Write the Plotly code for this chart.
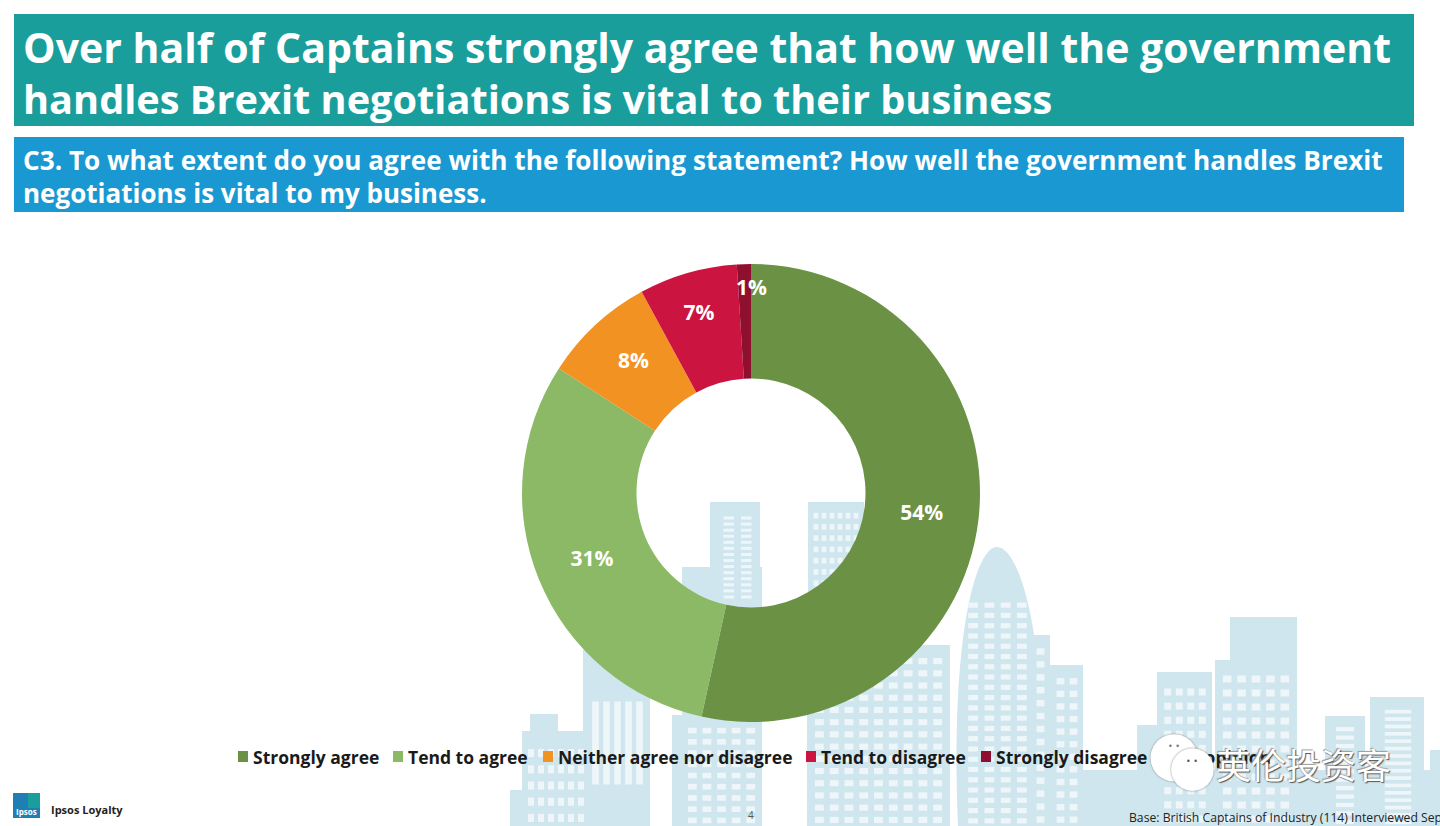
import plotly.graph_objects as go

labels = ['Strongly agree', 'Tend to agree', 'Neither agree nor disagree',
          'Tend to disagree', 'Strongly disagree', 'No opinion']
values = [54, 31, 8, 7, 1, 0]
colors = ['#6a9144', '#8cb966', '#f29222', '#cc1440', '#8f0f2e', '#b8b8b8']
# the 8% and 1% labels sit off the slice centre in the original, they get annotations instead
slice_text = ['54%', '31%', '', '7%', '', '']

title_lines = ['Over half of Captains strongly agree that how well the government',
               'handles Brexit negotiations is vital to their business']
question_lines = ['C3. To what extent do you agree with the following statement? How well the government handles Brexit',
                  'negotiations is vital to my business.']

W = 1440
H = 826
FONT = 'Open Sans'
SKY = '#cfe6ee'

# hand placed legend, plotly's own legend keeps too wide a gap after the symbol
legend_x = [238, 393, 543, 806, 981, 1160]

# background skyline: x0, top, x1, bottom
buildings = [(522, 731, 590, 826), (530, 714, 558, 731), (583, 650, 650, 826),
             (682, 567, 762, 715), (710, 502, 760, 567), (672, 715, 762, 826),
             (808, 502, 864, 650), (807, 645, 950, 826), (1030, 635, 1050, 826),
             (1050, 665, 1083, 826), (1083, 770, 1440, 826), (1137, 725, 1157, 826),
             (1157, 672, 1212, 826), (1230, 617, 1297, 660), (1215, 660, 1297, 826),
             (1325, 716, 1365, 826), (1370, 697, 1424, 826), (1430, 750, 1440, 826),
             (510, 790, 600, 826)]
# window grids: x0, y0, x1, y1, columns, rows
windows = [(526, 745, 586, 826, 6, 5), (590, 660, 645, 826, 5, 1), (685, 725, 758, 826, 5, 9),
           (720, 515, 755, 600, 2, 14), (812, 510, 860, 600, 6, 8), (812, 655, 945, 826, 9, 14),
           (965, 600, 1030, 826, 4, 22), (1034, 645, 1047, 826, 1, 14), (1054, 675, 1080, 826, 2, 12),
           (1162, 685, 1208, 826, 4, 10), (1220, 672, 1292, 826, 5, 11),
           (1330, 725, 1360, 826, 1, 12), (1376, 708, 1420, 826, 1, 16)]


def px_x(x):
    return x / W


def px_y(y):
    return 1 - y / H


def box(x0, y0, x1, y1, color, layer='below'):
    return dict(type='rect', xref='paper', yref='paper', x0=px_x(x0), x1=px_x(x1),
                y0=px_y(y0), y1=px_y(y1), fillcolor=color, line_width=0, layer=layer)


def note(x, y, text, size, color='white', bold=False, anchor='left', family=FONT, **kwargs):
    return dict(xref='paper', yref='paper', x=px_x(x), y=px_y(y), text=text, showarrow=False,
                xanchor=anchor, yanchor='middle', borderpad=0,
                font=dict(family=family, size=size, color=color, weight=700 if bold else 400, **kwargs))


shapes = []
for b in buildings:
    shapes.append(box(*b, SKY))

# gherkin tower
shapes.append(dict(type='path', xref='paper', yref='paper', layer='below', fillcolor=SKY, line_width=0,
                   path='M %f %f C %f %f %f %f %f %f C %f %f %f %f %f %f Z' % (
                       px_x(958), px_y(826), px_x(950), px_y(640), px_x(975), px_y(547), px_x(997), px_y(547),
                       px_x(1020), px_y(547), px_x(1050), px_y(640), px_x(1040), px_y(826))))

for x0, y0, x1, y1, cols, rows in windows:
    cw = (x1 - x0) / cols
    rh = (y1 - y0) / rows
    for c in range(cols):
        for r in range(rows):
            shapes.append(box(x0 + c * cw + cw * 0.2, y0 + r * rh + rh * 0.25,
                              x0 + c * cw + cw * 0.8, y0 + r * rh + rh * 0.75, '#eef6f9'))

# header bars
shapes.append(box(14, 14, 1414, 126, '#1a9e9c'))
shapes.append(box(14, 137, 1404, 212, '#1a98d2'))
# logo
shapes.append(box(13, 793, 40, 818, '#1f7fb5'))
shapes.append(box(28, 793, 40, 808, '#1a9e9c'))

annotations = [
    note(22, 47, title_lines[0], 41, bold=True),
    note(22, 99, title_lines[1], 39.7, bold=True),
    note(22, 160, question_lines[0], 26.2, bold=True),
    note(22, 193, question_lines[1], 26, bold=True),
    note(633, 360, '8%', 21, bold=True, anchor='center'),
    note(751, 287, '1%', 21, bold=True, anchor='center'),
    note(15, 811, 'Ipsos', 8, bold=True),
    note(50, 809, 'Ipsos Loyalty', 11, color='#222222', bold=True),
    note(751, 815, '4', 10, color='#555555', anchor='center'),
    note(1128, 817, 'Base: British Captains of Industry (114) Interviewed Sep', 12.2, color='#222222'),
]

for name, color, x in zip(labels, colors, legend_x):
    shapes.append(box(x, 751, x + 10, 762, color))
    annotations.append(note(x + 14, 757, name, 17.5, color='#1a1a1a', bold=True))

# watermark goes over the last legend entry
annotations += [
    note(1174, 752, '●', 62, color='white', anchor='center', family='DejaVu Sans', shadow='0 0 2px #777777'),
    note(1192, 764, '●', 56, color='white', anchor='center', family='DejaVu Sans', shadow='0 0 2px #777777'),
    note(1174, 746, '• •', 8, color='#777777', anchor='center', family='DejaVu Sans'),
    note(1192, 761, '• •', 8, color='#555555', anchor='center', family='DejaVu Sans'),
    note(1215, 763, '英伦投资客', 35, family='Noto Sans CJK SC', shadow='1px 1px 1px #555555, -1px -1px 1px #999999'),
]

fig = go.Figure(go.Pie(
    labels=labels,
    values=values,
    sort=False,
    direction='clockwise',
    rotation=0,
    hole=0.5,
    text=slice_text,
    textinfo='text',
    textposition='inside',
    insidetextorientation='horizontal',
    textfont=dict(family=FONT, size=21, color='white', weight=700),
    marker=dict(colors=colors, line=dict(width=0)),
    domain=dict(x=[px_x(522), px_x(980)], y=[px_y(722), px_y(264)]),
))

fig.update_layout(
    width=W,
    height=H,
    margin=dict(l=0, r=0, t=0, b=0),
    paper_bgcolor='white',
    plot_bgcolor='white',
    shapes=shapes,
    annotations=annotations,
    showlegend=False,
)

# the page's default body margin would push the chart 8px off
fig.write_html('out.html', config={'displayModeBar': False},
               post_script="document.body.style.margin='0';document.documentElement.style.overflow='hidden';")
